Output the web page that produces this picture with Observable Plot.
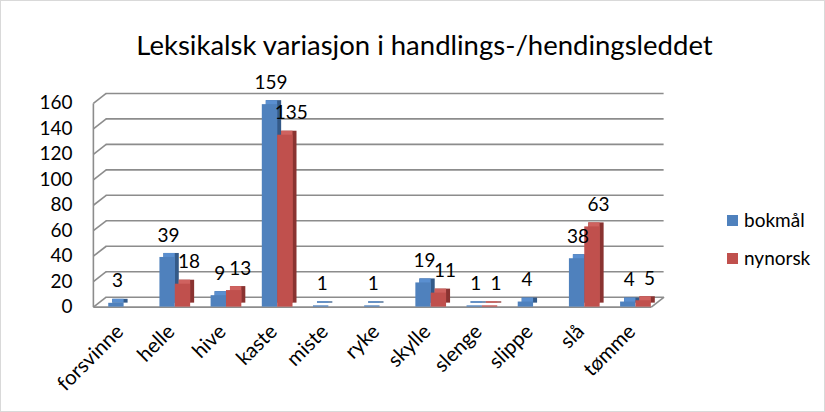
<!DOCTYPE html>
<html>
<head>
<meta charset="utf-8">
<script src="https://cdn.jsdelivr.net/npm/d3@7"></script>
<script src="https://cdn.jsdelivr.net/npm/@observablehq/plot@0.6"></script>
<style>
  html, body { margin: 0; padding: 0; background: #fff; }
  #wrap { position: relative; width: 825px; height: 412px; box-sizing: border-box; border: 1px solid #d9d9d9; overflow: hidden; font-family: Lato, "Open Sans", sans-serif; }
  #title { position: absolute; left: 0; top: 27px; width: 847px; text-align: center; font-size: 27.5px; line-height: 34px; color: #000; }
  #chart { position: absolute; left: -1px; top: -1px; }
  .leg { position: absolute; left: 726px; font-size: 19px; line-height: 22px; color: #000; display: flex; align-items: center; }
  .leg span.sw { display: inline-block; width: 11px; height: 11px; margin-right: 6px; }
</style>
</head>
<body>
<div id="wrap">
  <div id="chart"></div>
  <div id="title">Leksikalsk variasjon i handlings-/hendingsleddet</div>
  <div class="leg" style="top:208px"><span class="sw" style="background:#4F81BD"></span>bokmål</div>
  <div class="leg" style="top:246px"><span class="sw" style="background:#C0504D"></span>nynorsk</div>
</div>
<script>
// ---- data ----
const categories = ["forsvinne","helle","hive","kaste","miste","ryke","skylle","slenge","slippe","slå","tømme"];
const bokmal  = [3, 39, 9, 159, 1, 1, 19, 1, 4, 38, 4];
const nynorsk = [null, 18, 13, 135, null, null, 11, 1, null, 63, 5];
const yTicks = [0, 20, 40, 60, 80, 100, 120, 140, 160];
const seriesNames = ["bokmål", "nynorsk"];

// ---- layout constants ----
const W = 825, H = 412;
const xLo = -0.6, xHi = 10.3;
const barW = 0.3;
const depthXu = 0.25;   // back-wall depth in x units
const depthYu = 7.8;    // back-wall depth in y units

const idx = categories.map((_, i) => i);
const blueRows = categories.map((c, i) => ({cat: c, i, value: bokmal[i], series: seriesNames[0]})).filter(d => d.value != null);
const redRows  = categories.map((c, i) => ({cat: c, i, value: nynorsk[i], series: seriesNames[1]})).filter(d => d.value != null);

const grid = "#8c8c8c";
const FS = 19;

function bar3d(rows, x1f, x2f, front, top, side) {
  return [
    Plot.rectY(rows, {x1: x1f, x2: x2f, y1: 0, y2: "value", fill: side, dx: 4, dy: -4}),
    Plot.rectY(rows, {x1: x1f, x2: x2f, y1: 0, y2: "value", fill: top, dx: 4, dy: -4, insetRight: 4}),
    Plot.rectY(rows, {x1: x1f, x2: x2f, y1: 0, y2: "value", fill: front})
  ];
}

const chart = Plot.plot({
  width: W,
  height: H,
  marginLeft: 93,
  marginRight: W - 651.6,
  marginTop: 103,
  marginBottom: H - 307,
  x: {domain: [xLo, xHi], axis: null},
  y: {domain: [0, 160], axis: null},
  style: {fontFamily: "Lato, 'Open Sans', sans-serif", fontSize: FS + "px", color: "#000", background: "transparent", overflow: "visible"},
  marks: [
    // back wall gridlines
    Plot.ruleY(yTicks, {y: d => d + depthYu, x1: xLo + depthXu, x2: xHi + depthXu, stroke: grid, strokeWidth: 1.6}),
    // left wall slants
    Plot.link(yTicks, {x1: xLo, y1: d => d, x2: xLo + depthXu, y2: d => d + depthYu, stroke: grid, strokeWidth: 1.6}),
    // left wall vertical
    Plot.link([0], {x1: xLo, x2: xLo, y1: 0, y2: 160, stroke: grid, strokeWidth: 1.6}),
    // floor front edge and right slant
    Plot.link([0], {x1: xLo, x2: xHi, y1: 0, y2: 0, stroke: grid, strokeWidth: 1.6}),
    Plot.link([0], {x1: xHi, x2: xHi + depthXu, y1: 0, y2: depthYu, stroke: grid, strokeWidth: 1.6}),
    // bars
    ...bar3d(blueRows, d => d.i - barW, d => d.i, "#4F81BD", "#5A8FD0", "#345A88"),
    ...bar3d(redRows, d => d.i, d => d.i + barW, "#C0504D", "#CF625F", "#8A3331"),
    // value labels
    Plot.text(blueRows, {x: d => d.i - barW / 2, y: "value", text: d => String(d.value), dy: -22, dx: 1, fontSize: FS, fill: "#000"}),
    Plot.text(redRows, {x: d => d.i + barW / 2, y: "value", text: d => String(d.value), dy: -22, dx: 6, fontSize: FS, fill: "#000"}),
    // axes
    Plot.axisY(yTicks, {tickSize: 0, tickPadding: 21, label: null, fontSize: FS}),
    Plot.axisX(idx, {tickFormat: i => categories[i], tickRotate: -45, tickSize: 0, tickPadding: 21, dx: -4, label: null, fontSize: 20.5})
  ]
});
document.getElementById("chart").appendChild(chart);
</script>
</body>
</html>
